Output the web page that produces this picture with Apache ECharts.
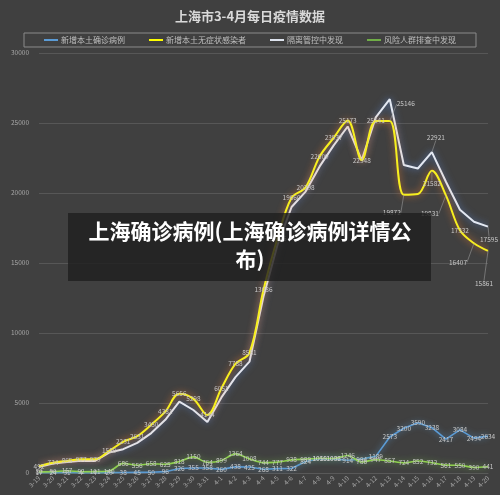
<!DOCTYPE html>
<html>
<head>
<meta charset="utf-8">
<script src="https://cdn.jsdelivr.net/npm/echarts@6/dist/echarts.min.js"></script>
<style>
html, body { margin: 0; padding: 0; background: #404040; }
#chart { width: 500px; height: 495px; }
</style>
</head>
<body>
<div id="chart"></div>
<script>
// 日期
const days = ['3-19', '3-20', '3-21', '3-22', '3-23', '3-24', '3-25', '3-26', '3-27', '3-28', '3-29', '3-30', '3-31',
  '4-1', '4-2', '4-3', '4-4', '4-5', '4-6', '4-7', '4-8', '4-9', '4-10', '4-11', '4-12', '4-13', '4-14', '4-15',
  '4-16', '4-17', '4-18', '4-19', '4-20'];
// 新增本土确诊病例
const confirmed = [17, 24, 31, 4, 4, 29, 38, 45, 50, 96, 326, 355, 358, 260, 438, 425, 268, 311, 322, 824, 1015,
  1006, 914, 994, 1189, 2573, 3200, 3590, 3238, 2417, 3084, 2494, 2634];
// 新增本土无症状感染者
const asymptomatic = [492, 734, 865, 977, 979, 1580, 2231, 2631, 3450, 4381, 5656, 5298, 4144, 6051, 7788, 8581,
  13086, 16766, 19660, 20398, 22609, 23937, 25173, 22348, 25141, 25146, 19872, 19923, 21582, 19831, 17332, 16407, 15861];
// 隔离管控中发现
const quarantine = [430, 670, 790, 880, 860, 1460, 1700, 2150, 2850, 3800, 5100, 4500, 3650, 5400, 6850, 7950,
  12600, 16300, 19000, 20100, 21900, 23400, 24750, 22350, 25400, 26700, 22000, 21750, 22921, 20800, 18800, 17950, 17595];
// 风险人群排查中发现
const screening = [80, 90, 157, 92, 101, 140, 686, 556, 658, 625, 818, 1150, 764, 899, 1364, 1008, 744, 777, 938,
  989, 1050, 1032, 1246, 786, 947, 857, 724, 852, 732, 561, 550, 390, 441];
const yTicks = [0, 5000, 10000, 15000, 20000, 25000, 30000];

const font = 'Noto Sans CJK SC';
const labelBase = { show: true, position: 'inside', fontSize: 6.5, color: '#c8c8c8', fontFamily: font };

// 个别标签挪开并加引导线
const yellowMoves = {
  25: { dx: 16, dy: -17 },
  26: { dx: -12, dy: 18 },
  28: { dx: 0, dy: 13 },
  29: { dx: -16, dy: 18 },
  31: { dx: -16, dy: 19 },
  32: { dx: -4, dy: 33 }
};
const yellowHidden = [27];
const whiteMoves = {
  28: { dx: 4, dy: -15 },
  32: { dx: 1, dy: 13 }
};

function buildData(values, moves, onlyMoved, hidden) {
  return values.map(function (v, i) {
    const m = moves[i];
    if (m) {
      return { value: v, label: { show: true }, labelLine: { show: true, lineStyle: { color: '#999', width: 0.6 } } };
    }
    if (onlyMoved || (hidden && hidden.indexOf(i) >= 0)) {
      return { value: v, label: { show: false } };
    }
    return v;
  });
}

function moveLayout(moves) {
  return function (p) {
    const m = moves[p.dataIndex];
    return m ? { dx: m.dx, dy: m.dy } : {};
  };
}

const chart = echarts.init(document.getElementById('chart'));
const option = {
  backgroundColor: '#404040',
  title: {
    text: '上海市3-4月每日疫情数据',
    left: 'center',
    top: 5,
    textStyle: { color: '#d9d9d9', fontSize: 13, fontWeight: 'bold', fontFamily: font }
  },
  legend: {
    top: 33,
    left: 'center',
    padding: [3, 20, 3, 20],
    itemGap: 24,
    itemWidth: 14,
    itemHeight: 2,
    icon: 'rect',
    borderColor: '#8a8a8a',
    borderWidth: 1,
    textStyle: { color: '#bfbfbf', fontSize: 8, fontFamily: font, padding: [0, 0, 0, -2] }
  },
  grid: { left: 39, right: 12, top: 53, bottom: 22, containLabel: false },
  xAxis: {
    type: 'category',
    data: days,
    boundaryGap: false,
    axisLine: { lineStyle: { color: '#595959' } },
    axisTick: { show: false },
    axisLabel: { rotate: 45, fontSize: 6.5, color: '#a6a6a6', margin: 4, interval: 0, fontFamily: font }
  },
  yAxis: {
    type: 'value',
    min: yTicks[0],
    max: yTicks[yTicks.length - 1],
    interval: 5000,
    axisLine: { show: false },
    axisTick: { show: false },
    axisLabel: {
      fontSize: 6.5, color: '#a6a6a6', margin: 10, fontFamily: font,
      formatter: function (v) { return String(v); }
    },
    splitLine: { lineStyle: { color: '#575757', width: 1 } }
  },
  series: [
    {
      name: '新增本土确诊病例',
      type: 'line',
      data: confirmed,
      symbol: 'circle',
      symbolSize: 0.1,
      z: 3,
      itemStyle: { color: '#5b9bd5' },
      lineStyle: { color: '#5b9bd5', width: 1.6, shadowBlur: 6, shadowColor: 'rgba(91,155,213,0.8)' },
      label: labelBase
    },
    {
      name: '新增本土无症状感染者',
      type: 'line',
      data: buildData(asymptomatic, yellowMoves, false, yellowHidden),
      smooth: 0.35,
      symbol: 'circle',
      symbolSize: 0.1,
      z: 4,
      itemStyle: { color: '#ffff00' },
      lineStyle: { color: '#f7ef1f', width: 2, shadowBlur: 7, shadowColor: 'rgba(237,125,49,0.9)' },
      label: labelBase,
      labelLayout: moveLayout(yellowMoves)
    },
    {
      name: '隔离管控中发现',
      type: 'line',
      data: buildData(quarantine, whiteMoves, true),
      symbol: 'circle',
      symbolSize: 0.1,
      z: 3,
      itemStyle: { color: '#dde3ee' },
      lineStyle: { color: '#e3e8f2', width: 2, shadowBlur: 7, shadowColor: 'rgba(91,130,200,0.9)' },
      label: labelBase,
      labelLayout: moveLayout(whiteMoves)
    },
    {
      name: '风险人群排查中发现',
      type: 'line',
      data: screening,
      smooth: 0.3,
      symbol: 'circle',
      symbolSize: 0.1,
      z: 3,
      itemStyle: { color: '#70ad47' },
      lineStyle: { color: '#8fd14f', width: 1.6, shadowBlur: 6, shadowColor: 'rgba(112,173,71,0.9)' },
      label: labelBase
    }
  ],
  graphic: [
    {
      type: 'rect',
      left: 68,
      top: 213,
      z: 100,
      shape: { width: 363, height: 68 },
      style: { fill: 'rgba(30,30,30,0.8)' }
    },
    {
      type: 'text',
      left: 'center',
      top: 217,
      z: 101,
      style: {
        text: '上海确诊病例(上海确诊病例详情公\n布)',
        fill: '#ffffff',
        font: 'bold 21px "Noto Sans CJK SC"',
        textAlign: 'center',
        lineHeight: 28
      }
    }
  ]
};
chart.setOption(option);
</script>
</body>
</html>
